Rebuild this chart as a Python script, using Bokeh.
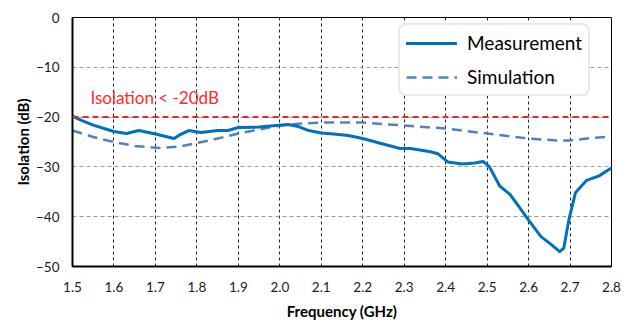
from bokeh.plotting import figure
from bokeh.models import Span, Label, Legend, LegendItem, FixedTicker, ColumnDataSource
from bokeh.embed import file_html
from bokeh.resources import INLINE

# ---- data ----
meas_freq = [1.50, 1.52, 1.55, 1.58, 1.60, 1.63, 1.66, 1.70, 1.72, 1.745, 1.76, 1.78,
             1.81, 1.85, 1.875, 1.90, 1.95, 1.99, 2.02, 2.045, 2.07, 2.10, 2.13, 2.165,
             2.20, 2.24, 2.29, 2.315, 2.36, 2.38, 2.405, 2.44, 2.47, 2.49, 2.505, 2.53,
             2.555, 2.575, 2.60, 2.63, 2.655, 2.675, 2.685, 2.697, 2.713, 2.74, 2.77, 2.80]
meas_db = [-19.8, -20.6, -21.6, -22.4, -22.9, -23.3, -22.7, -23.4, -23.8, -24.3, -23.5, -22.7,
           -23.1, -22.7, -22.7, -22.1, -22.0, -21.7, -21.5, -21.9, -22.7, -23.2, -23.4, -23.7,
           -24.3, -25.2, -26.3, -26.3, -26.9, -27.3, -29.0, -29.4, -29.2, -28.9, -29.9, -33.8,
           -35.5, -37.8, -40.7, -44.0, -45.6, -47.0, -46.3, -40.7, -35.2, -32.7, -31.8, -30.2]

sim_freq = [1.50, 1.55, 1.60, 1.65, 1.71, 1.76, 1.83, 1.90, 1.95, 2.00, 2.05, 2.10,
            2.20, 2.30, 2.40, 2.50, 2.60, 2.67, 2.70, 2.75, 2.80]
sim_db = [-22.7, -24.0, -25.0, -25.8, -26.2, -25.9, -24.7, -23.3, -22.5, -21.7, -21.3, -21.1,
          -21.1, -21.7, -22.3, -23.3, -24.3, -24.7, -24.7, -24.2, -23.9]

limit_db = -20
limit_text = "Isolation < -20dB"
x_ticks = [1.5, 1.6, 1.7, 1.8, 1.9, 2.0, 2.1, 2.2, 2.3, 2.4, 2.5, 2.6, 2.7, 2.8]
y_ticks = [0, -10, -20, -30, -40, -50]

FONT = "Lato"

p = figure(width=625, height=322, output_backend="svg", toolbar_location=None,
           x_range=(1.5, 2.8), y_range=(-50, 0),
           min_border_left=72, min_border_right=14, min_border_top=17, min_border_bottom=52)

p.outline_line_color = "black"
p.outline_line_width = 1
p.background_fill_color = "white"
p.border_fill_color = "white"

# axes
for ax in (p.xaxis[0], p.yaxis[0]):
    ax.axis_line_color = "black"
    ax.axis_line_width = 2
    ax.major_tick_line_color = None
    ax.minor_tick_line_color = None
    ax.major_tick_out = 0
    ax.major_tick_in = 0
    ax.major_label_text_font = FONT
    ax.major_label_text_font_size = "13.5px"
    ax.major_label_text_color = "#1a1a1a"
    ax.axis_label_text_font = FONT
    ax.axis_label_text_font_style = "bold"
    ax.axis_label_text_font_size = "15px"
    ax.axis_label_text_color = "black"

p.xaxis.ticker = FixedTicker(ticks=x_ticks)
p.xaxis.major_label_overrides = {t: f"{t:.1f}" for t in x_ticks}
p.yaxis.ticker = FixedTicker(ticks=y_ticks)
p.xaxis.axis_label = "Frequency (GHz)"
p.yaxis.axis_label = "Isolation (dB)"
p.xaxis.major_label_standoff = 15
p.xaxis.axis_label_standoff = 7
p.yaxis.major_label_standoff = 13
p.yaxis.axis_label_standoff = 1

# grids
p.xgrid.ticker = FixedTicker(ticks=x_ticks)
p.xgrid.grid_line_color = "#222222"
p.xgrid.grid_line_dash = "3 3"
p.xgrid.grid_line_width = 1
p.ygrid.ticker = FixedTicker(ticks=y_ticks)
p.ygrid.grid_line_color = "#9a9a9a"
p.ygrid.grid_line_dash = "4 3"
p.ygrid.grid_line_width = 1

# series
meas_src = ColumnDataSource(dict(x=meas_freq, y=meas_db))
sim_src = ColumnDataSource(dict(x=sim_freq, y=sim_db))
r_sim = p.line("x", "y", source=sim_src, line_color="#4F81BD", line_width=2.5,
               line_dash="10 6", line_join="round")
r_meas = p.line("x", "y", source=meas_src, line_color="#0070C0", line_width=3,
                line_join="round", line_cap="round")

# limit line + label
p.add_layout(Span(location=limit_db, dimension="width", line_color="#E8262B",
                  line_dash="6 4", line_width=2))
p.add_layout(Label(x=1.5434, y=limit_db + 4.0, text=limit_text, text_font=FONT,
                   text_font_size="17px", text_color="#FF2A2A",
                   text_baseline="middle", text_align="left"))

legend = Legend(items=[LegendItem(label="Measurement", renderers=[r_meas]),
                       LegendItem(label="Simulation", renderers=[r_sim])],
                location=(326, 170))
legend.label_text_font = FONT
legend.label_text_font_size = "19px"
legend.label_text_color = "black"
legend.glyph_width = 51
legend.glyph_height = 20
legend.label_height = 20
legend.spacing = 11
legend.padding = 6
legend.margin = 0
legend.label_standoff = 10
legend.border_line_color = "#d4d4d4"
legend.border_line_width = 2
legend.background_fill_color = "white"
legend.background_fill_alpha = 1
try:
    legend.border_radius = 8
except Exception:
    pass
p.add_layout(legend, "center")

open("out.html", "w").write(file_html(p, INLINE))
